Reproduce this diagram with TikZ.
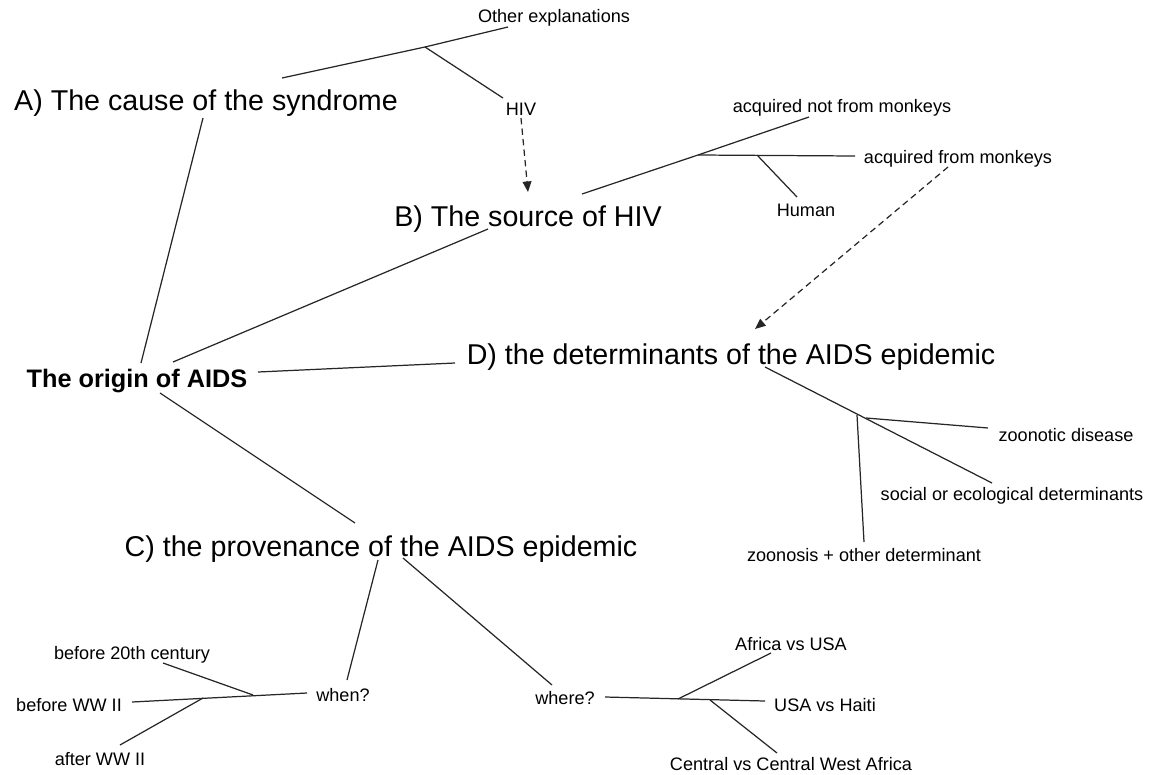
\documentclass[tikz,border=0pt]{standalone}
\usepackage{fontspec}
\setmainfont{Liberation Sans}
\usetikzlibrary{arrows.meta}
\begin{document}
\begin{tikzpicture}[x=0.02cm,y=-0.02cm,
  big/.style={inner sep=0pt,font=\fontsize{16.3}{19}\selectfont},
  small/.style={inner sep=0pt,font=\fontsize{10.3}{12}\selectfont},
  root/.style={inner sep=0pt,font=\fontsize{14.4}{17}\selectfont\bfseries},
  link/.style={draw=black!85,line width=0.7pt},
  dasharrow/.style={draw=black!85,line width=0.7pt,dash pattern=on 3.6pt off 2.4pt,-{Triangle[length=6pt,width=5pt]}}]
\useasboundingbox (0,0) rectangle (1152,774);
% nodes
\node[small] (other) at (554,18) {Other explanations};
\node[big] (A) at (206,103) {A) The cause of the syndrome};
\node[small] (hiv) at (521,109) {HIV};
\node[small] (notmonkeys) at (842,108) {acquired not from monkeys};
\node[small] (monkeys) at (958,159) {acquired from monkeys};
\node[small] (human) at (806,210) {Human};
\node[big] (B) at (528,219) {B) The source of HIV};
\node[root] (origin) at (137,381) {The origin of AIDS};
\node[big] (D) at (731,357) {D) the determinants of the AIDS epidemic};
\node[small] (zoo) at (1066,435) {zoonotic disease};
\node[small] (social) at (1012,496) {social or ecological determinants};
\node[small] (zooplus) at (864,555) {zoonosis + other determinant};
\node[big] (C) at (381,549) {C) the provenance of the AIDS epidemic};
\node[small] (b20) at (132,655) {before 20th century};
\node[small] (bww) at (69,705) {before WW II};
\node[small] (aww) at (100,759) {after WW II};
\node[small] (when) at (343,695) {when?};
\node[small] (where) at (565,698) {where?};
\node[small] (afusa) at (791,644) {Africa vs USA};
\node[small] (usah) at (825,705) {USA vs Haiti};
\node[small] (central) at (791,764) {Central vs Central West Africa};
% connector end points
\coordinate (A-e) at (282,78);
\coordinate (other-e) at (508,27);
\coordinate (j1) at (425,47);
\coordinate (hiv-e) at (503,98);
\coordinate (hiv-s) at (521,118);
\coordinate (B-n) at (528,192);
\coordinate (B-e) at (582,194);
\coordinate (notmonkeys-e) at (809,117);
\coordinate (j2) at (698,155);
\coordinate (monkeys-w) at (855,156);
\coordinate (j3) at (757,155);
\coordinate (human-n) at (797,197);
\coordinate (monkeys-s) at (948,167);
\coordinate (D-n) at (755,329);
\coordinate (A-s) at (203,118);
\coordinate (origin-n1) at (141,363);
\coordinate (B-sw) at (488,229);
\coordinate (origin-n2) at (173,362);
\coordinate (origin-e) at (258,372);
\coordinate (D-w) at (455,363);
\coordinate (origin-s) at (160,393);
\coordinate (C-n) at (355,523);
\coordinate (D-se) at (765,367);
\coordinate (social-n) at (992,483);
\coordinate (j4) at (866,418);
\coordinate (zoo-w) at (988,428);
\coordinate (j5) at (857,415);
\coordinate (zooplus-n) at (864,542);
\coordinate (C-s1) at (378,560);
\coordinate (when-n) at (347,680);
\coordinate (when-w) at (307,693);
\coordinate (bww-e) at (132,702);
\coordinate (j6) at (253,695);
\coordinate (b20-s) at (163,663);
\coordinate (j7) at (203,698);
\coordinate (aww-n) at (120,745);
\coordinate (C-s2) at (403,558);
\coordinate (where-n) at (552,685);
\coordinate (where-e) at (605,697);
\coordinate (usah-w) at (765,701);
\coordinate (j8) at (678,699);
\coordinate (afusa-s) at (771,653);
\coordinate (j9) at (710,700);
\coordinate (central-n) at (777,753);
% connectors
\draw[link] (A-e) -- (j1) -- (other-e);
\draw[link] (j1) -- (hiv-e);
\draw[dasharrow] (hiv-s) -- (B-n);
\draw[link] (B-e) -- (j2) -- (notmonkeys-e);
\draw[link] (j2) -- (monkeys-w);
\draw[link] (j3) -- (human-n);
\draw[dasharrow] (monkeys-s) -- (D-n);
\draw[link] (A-s) -- (origin-n1);
\draw[link] (B-sw) -- (origin-n2);
\draw[link] (origin-e) -- (D-w);
\draw[link] (origin-s) -- (C-n);
\draw[link] (D-se) -- (social-n);
\draw[link] (j4) -- (zoo-w);
\draw[link] (j5) -- (zooplus-n);
\draw[link] (C-s1) -- (when-n);
\draw[link] (when-w) -- (bww-e);
\draw[link] (j6) -- (b20-s);
\draw[link] (j7) -- (aww-n);
\draw[link] (C-s2) -- (where-n);
\draw[link] (where-e) -- (usah-w);
\draw[link] (j8) -- (afusa-s);
\draw[link] (j9) -- (central-n);
\end{tikzpicture}
\end{document}
